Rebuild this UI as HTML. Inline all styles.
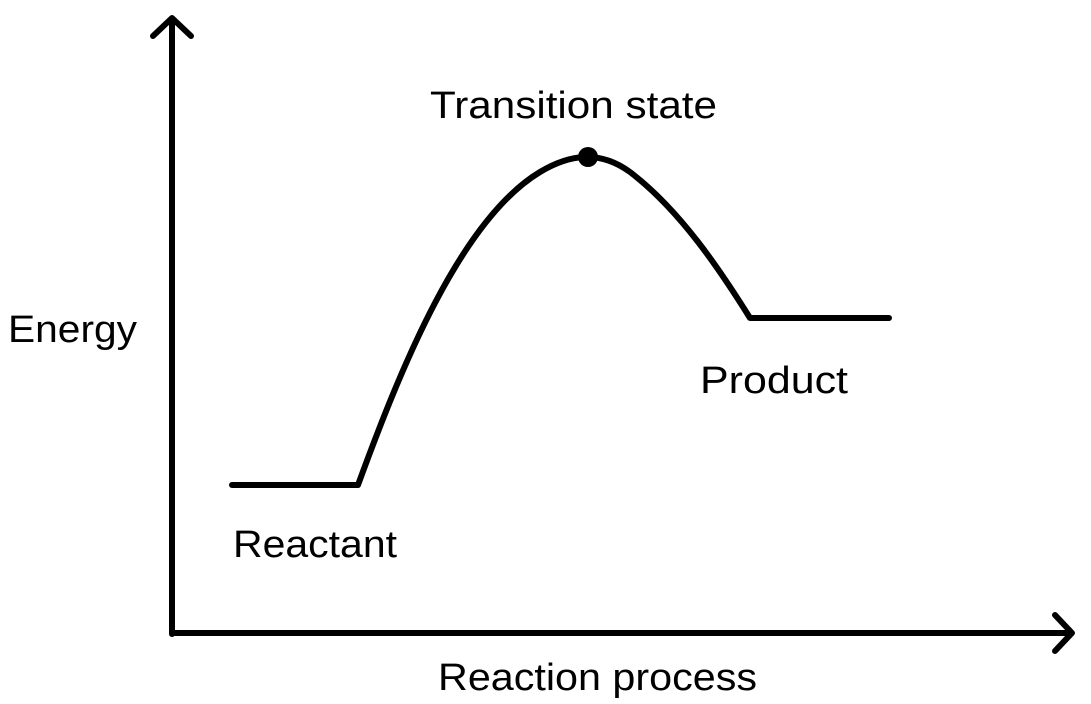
<!DOCTYPE html>
<html><head><style>
html,body{margin:0;padding:0;background:#fff;}
svg{display:block;}
text{font-family:"Liberation Sans","Noto Sans CJK SC",sans-serif;font-size:38px;fill:#000;}
</style></head><body>
<svg width="1091" height="704" viewBox="0 0 1091 704">
<g stroke="#000" stroke-width="6" fill="none" stroke-linecap="round" stroke-linejoin="round">
<line x1="172" y1="20" x2="172" y2="634"/>
<line x1="172" y1="633" x2="1070" y2="633"/>
<polyline points="153,36 172,18 191,36"/>
<polyline points="1055,615 1072,633 1055,651"/>
<path d="M232,485 L358,485 C400,370 460,220 540,172 C570,154 600,150 630,172 C680,210 720,270 750,318 L889,318"/>
</g>
<circle cx="588" cy="157" r="10" fill="#000"/>
<text x="430" y="118" textLength="287" lengthAdjust="spacingAndGlyphs">Transition state</text>
<text x="8" y="342" textLength="129" lengthAdjust="spacingAndGlyphs">Energy</text>
<text x="700" y="393" textLength="148" lengthAdjust="spacingAndGlyphs">Product</text>
<text x="233" y="557" textLength="164" lengthAdjust="spacingAndGlyphs">Reactant</text>
<text x="438" y="690" textLength="319" lengthAdjust="spacingAndGlyphs">Reaction process</text>
</svg>
</body></html>
